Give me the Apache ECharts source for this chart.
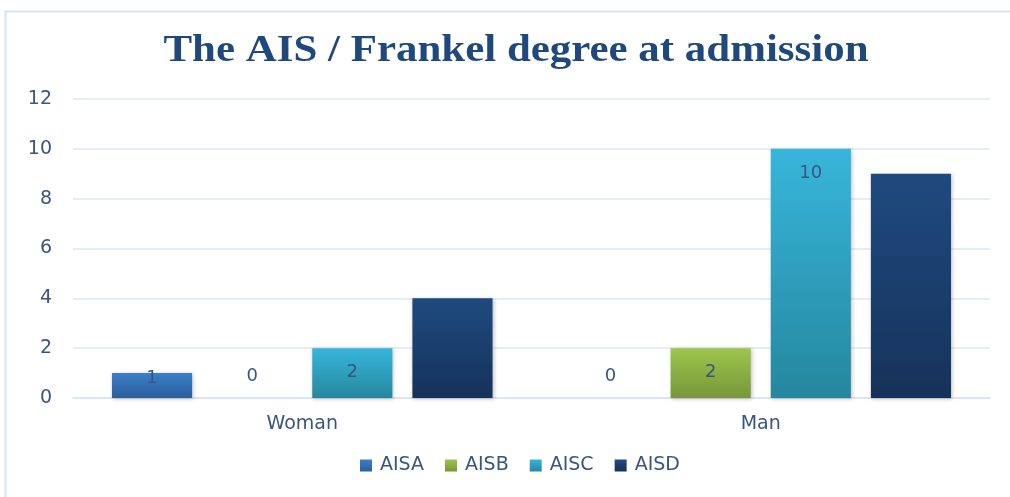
<!DOCTYPE html>
<html>
<head>
<meta charset="utf-8">
<script src="https://cdn.jsdelivr.net/npm/echarts@6/dist/echarts.min.js"></script>
<style>
html,body{margin:0;padding:0;background:#fff;}
#chart{width:1010px;height:497px;}
</style>
</head>
<body>
<div id="chart"></div>
<script>
const categories = ['Woman', 'Man'];
const seriesNames = ['AISA', 'AISB', 'AISC', 'AISD'];
const aisA = [1, 0];
const aisB = [0, 2];
const aisC = [2, 10];
const aisD = [4, 9];
const yTicks = [0, 2, 4, 6, 8, 10, 12];
const titleText = 'The AIS / Frankel degree at admission';

const textColor = '#3a5580';
const fontFam = 'DejaVu Sans';
const colors = [
  ['#3b7ecb', '#2b5e9c'],
  ['#9dc64b', '#77963a'],
  ['#37b6da', '#25879f'],
  ['#1f4a7f', '#16325a']
];
const showLabels = [true, true, true, false];

function grad(c) {
  return new echarts.graphic.LinearGradient(0, 0, 0, 1, [
    {offset: 0, color: c[0]}, {offset: 1, color: c[1]}
  ]);
}
function labelFor(v, show) {
  if (!show) return {show: false};
  if (v === 0) return {show: true, position: 'top', distance: 13};
  if (v === 1) return {show: true, position: 'insideTop', distance: -4};
  return {show: true, position: 'insideTop', distance: 15};
}
const allData = [aisA, aisB, aisC, aisD];
const series = allData.map((arr, i) => ({
  name: seriesNames[i],
  type: 'bar',
  barCategoryGap: '17%',
  barGap: '25%',
  itemStyle: {
    color: grad(colors[i]),
    shadowColor: 'rgba(0,0,0,0.25)',
    shadowBlur: 4,
    shadowOffsetX: 1,
    shadowOffsetY: 1
  },
  label: {color: textColor, fontSize: 18, fontFamily: fontFam},
  data: arr.map(v => ({value: v, label: labelFor(v, showLabels[i])}))
}));

const chart = echarts.init(document.getElementById('chart'));
chart.setOption({
  animation: false,
  backgroundColor: '#ffffff',
  color: colors.map(c => c[0]),
  graphic: [{
    type: 'rect',
    shape: {x: 5.5, y: 11.5, width: 1010, height: 500},
    style: {fill: 'none', stroke: '#d5e3f3', lineWidth: 2},
    silent: true,
    z: -1
  }, {
    type: 'text',
    x: 516,
    y: 51,
    scaleX: 1.16,
    style: {
      text: titleText,
      fontFamily: 'Liberation Serif',
      fontWeight: 'bold',
      fontSize: 37,
      fill: '#1f497d',
      align: 'center',
      verticalAlign: 'middle'
    }
  }],
  legend: {
    bottom: 17,
    left: 355,
    itemWidth: 12,
    itemHeight: 12,
    itemGap: 21,
    icon: 'rect',
    textStyle: {color: textColor, fontSize: 19, fontFamily: fontFam, padding: [0, 0, 0, 3]},
    data: seriesNames
  },
  grid: {left: 73, right: 20, top: 99, bottom: 99, containLabel: false},
  xAxis: {
    type: 'category',
    data: categories,
    axisLine: {lineStyle: {color: '#d6e3f2', width: 1.5}},
    axisTick: {show: false},
    axisLabel: {color: textColor, fontSize: 19, fontFamily: fontFam, margin: 17}
  },
  yAxis: {
    type: 'value',
    min: yTicks[0],
    max: yTicks[yTicks.length - 1],
    interval: yTicks[1] - yTicks[0],
    axisLine: {show: false},
    axisTick: {show: false},
    axisLabel: {color: textColor, fontSize: 19, fontFamily: fontFam, margin: 21},
    splitLine: {lineStyle: {color: '#dde8f4', width: 1.5}}
  },
  series: series
});
</script>
</body>
</html>
